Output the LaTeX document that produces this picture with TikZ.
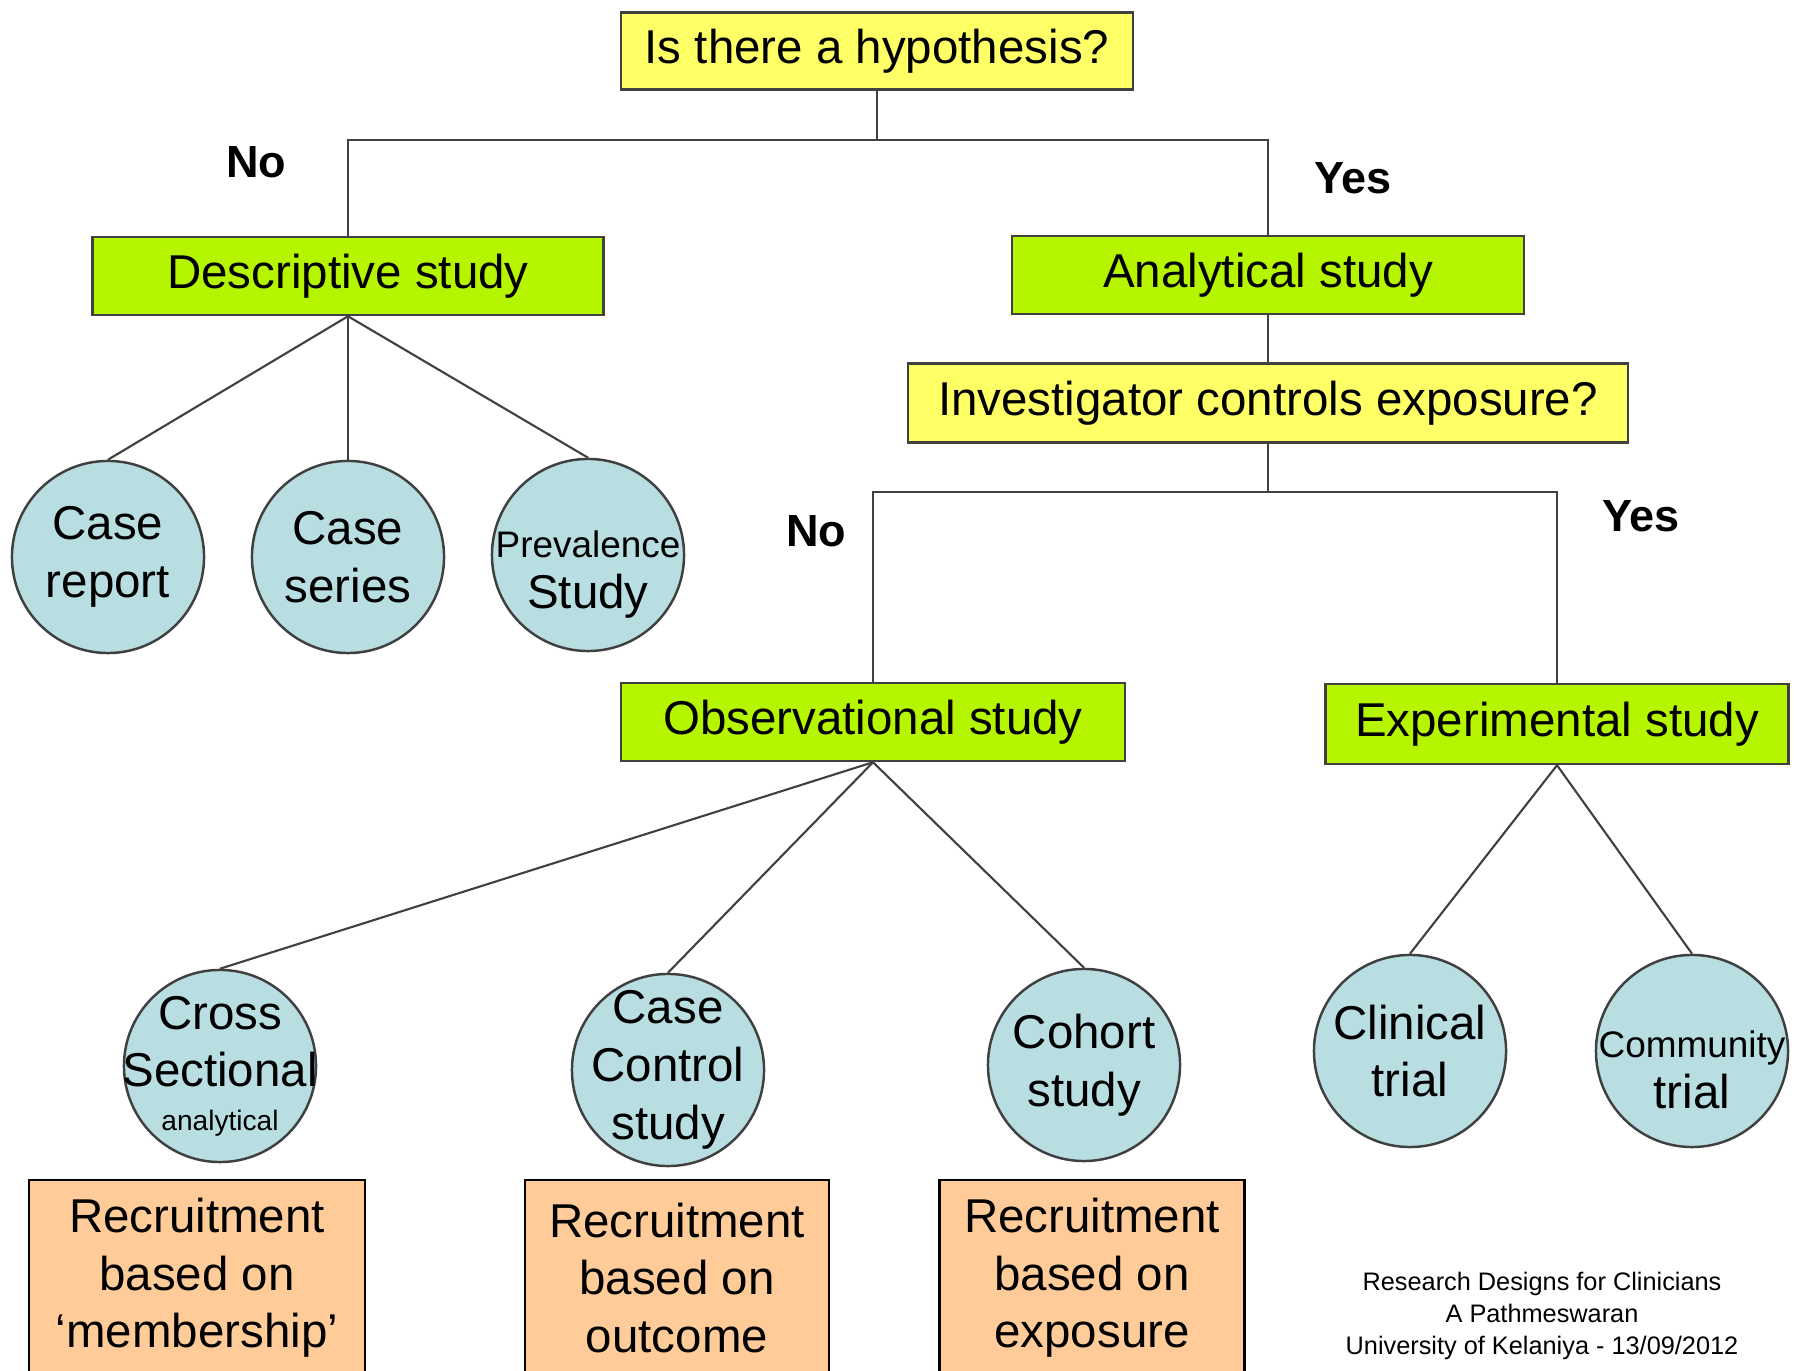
\documentclass[tikz,border=0pt]{standalone}
\usepackage{fontspec}
\setmainfont{Liberation Sans}
\usetikzlibrary{shapes,shapes.geometric,calc}

\definecolor{qyellow}{RGB}{255,255,102}
\definecolor{stgreen}{RGB}{181,245,0}
\definecolor{dsblue}{RGB}{184,222,226}
\definecolor{rcorange}{RGB}{255,204,153}
\definecolor{edgegray}{RGB}{64,64,64}

\begin{document}
\begin{tikzpicture}
	[x=0.01cm,y=-0.01cm,
	every node/.style={inner sep=0pt,font=\fontsize{13.5pt}{16.4pt}\selectfont},
	question/.style={shape=rectangle,draw=edgegray,line width=0.7pt,fill=qyellow,minimum height=0.77cm},
	kind/.style={shape=rectangle,draw=edgegray,line width=0.7pt,fill=stgreen,minimum height=0.78cm},
	design/.style={shape=circle,draw=edgegray,line width=0.7pt,fill=dsblue,minimum size=1.92cm},
	recruit/.style={shape=rectangle,draw=black,line width=0.7pt,fill=rcorange,minimum height=1.96cm,align=center},
	answer/.style={font=\fontsize{12.8pt}{15pt}\selectfont\bfseries}]
	\useasboundingbox (0,0) rectangle (1794,1371);
	\clip (0,0) rectangle (1794,1371);

		% questions and study types
		\node[question,minimum width=5.12cm] (hyp) at (877,51) {Is there a hypothesis?};
		\node[kind,minimum width=5.11cm] (desc) at (348,276) {Descriptive study};
		\node[kind,minimum width=5.12cm] (ana) at (1268,275) {Analytical study};
		\node[question,minimum width=7.20cm,minimum height=0.79cm] (inv) at (1268,403) {Investigator controls exposure?};
		\node[kind,minimum width=5.04cm] (obs) at (873,722) {Observational study};
		\node[kind,minimum width=4.63cm,minimum height=0.80cm] (exp) at (1557,724) {Experimental study};

		% designs
		\node[design,label={[align=center]center:Case\\report}] (crep) at (108,557) {};
		\node[design,label={[align=center]center:Case\\series}] (cser) at (348,557) {};
		\node[design,label={[align=center,yshift=-0.2cm,font=\fontsize{13.5pt}{14.5pt}\selectfont]center:{\fontsize{10.5pt}{14.5pt}\selectfont Prevalence}\\Study}] (prev) at (588,555) {};
		\node[design,label={[align=center]center:Cross\\Sectional\\[-4pt]{\fontsize{8pt}{9pt}\selectfont analytical}}] (cs) at (220,1066) {};
		\node[design,label={[align=center]center:Case\\Control\\study}] (cc) at (668,1070) {};
		\node[design,label={[align=center]center:Cohort\\study}] (coh) at (1084,1065) {};
		\node[design,label={[align=center]center:Clinical\\trial}] (clin) at (1410,1051) {};
		\node[design,label={[align=center,yshift=-0.19cm,font=\fontsize{13.5pt}{14.5pt}\selectfont]center:{\fontsize{10.5pt}{14.5pt}\selectfont Community}\\trial}] (comm) at (1692,1051) {};

		% recruitment
		\node[recruit,minimum width=3.36cm] (rmem) at (197,1278) {Recruitment\\based on\\‘membership’};
		\node[recruit,minimum width=3.04cm] (rout) at (677,1278) {Recruitment\\based on\\outcome};
		\node[recruit,minimum width=3.05cm] (rexp) at (1092,1278) {Recruitment\\based on\\exposure};

		% answers
		\node[answer] (no1) at (256,162) {No};
		\node[answer] (yes1) at (1353,178) {Yes};
		\node[answer] (no2) at (816,531) {No};
		\node[answer] (yes2) at (1641,516) {Yes};

		\node[align=center,font=\fontsize{7.2pt}{9.1pt}\selectfont] (credit) at (1542,1316)
			{Research Designs for Clinicians\\A Pathmeswaran\\University of Kelaniya - 13/09/2012};

		\coordinate (j1) at (877,140);
		\coordinate (j2) at (1268,492);
		\draw[edgegray,line width=0.6pt] (hyp.south) -- (j1);
		\draw[edgegray,line width=0.6pt] (desc.north) |- (j1) -| (ana.north);
		\draw[edgegray,line width=0.6pt] (ana.south) -- (inv.north);
		\draw[edgegray,line width=0.6pt] (inv.south) -- (j2);
		\draw[edgegray,line width=0.6pt] (obs.north) |- (j2) -| (exp.north);

		\path
		\foreach \startNode/\endNode in {desc/crep, desc/cser, desc/prev, obs/cs, obs/cc, obs/coh, exp/clin, exp/comm}
		{
			(\startNode.south) edge[draw=edgegray,line width=0.6pt] (\endNode.north)
		};
	\end{tikzpicture}
\end{document}
